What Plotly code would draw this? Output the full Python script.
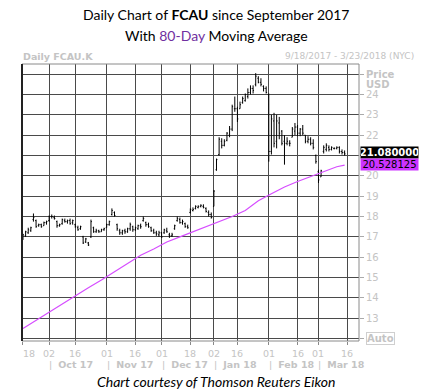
import plotly.graph_objects as go

# ---------------- data (trading-day index from 18 Sep 2017) ----------------
day_index = list(range(124))
opens = [16.9,17.05,17.2,17.3,17.85,17.8,17.55,17.6,17.55,17.7,
         17.8,18.0,17.95,17.75,17.55,17.65,17.8,17.75,17.8,17.7,
         17.6,17.45,17.4,17.0,16.75,16.7,17.0,17.45,17.25,17.3,
         17.25,17.35,17.45,17.6,18.1,18.2,17.6,17.3,17.2,17.3,
         17.25,17.4,17.5,17.35,17.4,17.55,17.8,17.7,17.6,17.45,
         17.3,17.2,17.1,17.2,17.2,17.3,17.1,17.05,17.4,17.8,
         17.85,17.7,17.65,17.5,18.2,18.3,18.4,18.45,18.5,18.5,
         18.4,18.2,18.1,18.5,20.3,21.05,21.7,21.5,21.75,22.0,
         22.3,23.3,23.3,23.3,23.6,23.7,23.9,24.1,24.3,24.5,
         24.8,24.6,24.4,24.3,24.0,21.2,22.7,21.7,22.6,22.2,
         21.7,21.6,21.6,21.9,22.2,22.4,22.1,22.3,22.0,21.7,
         21.8,21.6,21.0,20.2,19.95,21.2,21.3,21.4,21.3,21.35,
         21.35,21.4,21.2,21.15]
highs = [17.15,17.3,17.45,17.5,18.15,17.85,17.65,17.65,17.75,17.8,
         18.05,18.1,18.05,17.8,17.65,17.9,17.9,17.85,17.9,17.85,
         17.65,17.55,17.55,17.05,16.95,16.75,17.85,17.5,17.4,17.35,
         17.4,17.45,17.65,17.8,18.4,18.25,17.65,17.4,17.35,17.4,
         17.45,17.7,17.55,17.5,17.6,17.65,18.0,17.75,17.7,17.5,
         17.4,17.3,17.3,17.25,17.4,17.45,17.2,17.2,17.6,18.0,
         17.95,17.85,17.7,17.6,18.4,18.45,18.55,18.55,18.6,18.6,
         18.45,18.3,18.2,19.3,20.85,21.9,21.85,21.8,22.15,22.45,
         23.5,23.9,23.4,23.65,23.9,24.05,24.3,24.45,24.45,25.05,
         24.9,24.8,24.45,24.4,24.05,23.0,23.1,23.0,22.9,22.25,
         22.0,21.9,21.75,22.4,22.6,22.5,22.35,22.5,22.0,21.95,
         21.9,21.8,21.05,20.3,20.3,21.5,21.6,21.5,21.45,21.4,
         21.45,21.45,21.3,21.25]
lows = [16.85,17.0,17.15,17.25,17.75,17.45,17.5,17.45,17.55,17.6,
        17.75,17.9,17.85,17.45,17.5,17.6,17.7,17.65,17.6,17.6,
        17.45,17.3,17.35,16.65,16.7,16.55,16.95,17.2,17.2,17.2,
        17.25,17.3,17.45,17.55,18.05,18.0,17.3,17.1,17.1,17.15,
        17.2,17.3,17.25,17.3,17.35,17.4,17.75,17.5,17.45,17.25,
        17.15,17.05,17.0,16.95,17.15,17.2,16.95,17.0,17.35,17.75,
        17.65,17.6,17.45,17.4,18.15,18.25,18.35,18.4,18.45,18.4,
        18.2,18.0,17.9,18.5,20.25,21.0,21.35,21.45,21.7,21.9,
        22.2,23.15,22.65,23.3,23.55,23.65,23.8,24.0,24.05,24.4,
        24.55,24.4,24.15,24.05,20.7,21.05,21.4,21.35,21.8,21.5,
        20.55,21.5,21.45,21.9,22.0,21.95,21.95,22.0,21.6,21.6,
        21.5,21.3,20.6,19.65,19.95,21.1,21.2,21.2,21.25,21.3,
        21.3,21.1,21.05,21.0]
closes = [17.1,17.25,17.35,17.45,17.95,17.5,17.6,17.5,17.7,17.75,
          18.0,18.0,17.9,17.55,17.6,17.85,17.75,17.8,17.65,17.8,
          17.5,17.35,17.5,16.7,16.9,16.6,17.75,17.25,17.3,17.25,
          17.35,17.4,17.6,17.75,18.3,18.05,17.4,17.2,17.3,17.25,
          17.4,17.6,17.35,17.45,17.55,17.5,17.9,17.6,17.5,17.3,
          17.2,17.15,17.2,17.0,17.35,17.25,17.05,17.1,17.55,17.9,
          17.7,17.75,17.5,17.45,18.35,18.35,18.5,18.5,18.55,18.45,
          18.25,18.1,17.95,19.25,20.8,21.8,21.5,21.7,22.1,22.3,
          23.4,23.3,22.8,23.5,23.8,24.0,24.1,24.3,24.2,24.9,
          24.6,24.5,24.3,24.1,21.2,22.8,21.6,22.7,22.1,21.6,
          21.6,21.7,21.6,22.3,22.4,22.1,22.3,22.1,21.7,21.8,
          21.6,21.4,20.7,19.8,20.25,21.4,21.5,21.3,21.4,21.35,
          21.4,21.2,21.15,21.08]

ma_index = [0,5,10,15,20,25,30,35,40,45,50,55,60,65,70,75,80,85,90,95,100,105,110,115,120,123]
ma_values = [12.49,12.9,13.3,13.72,14.12,14.5,14.88,15.28,15.7,16.1,16.4,16.75,17.0,
             17.25,17.48,17.72,18.0,18.3,18.78,19.12,19.45,19.72,19.97,20.22,20.45,20.53]

grid_index = [0,10,20,32,43,53,64,73,82,94,105,113,124]
day_labels = ["18","02","16","01","16","01","18","02","16","01","16","01","16"]
month_labels = ["Oct 17","Nov 17","Dec 17","Jan 18","Feb 18","Mar 18"]
month_start_index = [10,32,53,73,94,113]
price_ticks = list(range(12, 26))
last_close_text = "21.080000"
last_ma_text = "20.528125"

# ---------------- geometry helpers ----------------
W, H = 425, 391
L, R, T, B = 22, 66, 64, 50
PW, PH = W - L - R, H - T - B
XR = [-0.38, 128.5]
YR = [11.88, 25.5]

def py(ypx):
    return (H - B - ypx) / PH

def ppx(xpx):
    return (xpx - L) / PW

def yval(ypx):
    return YR[1] - (ypx - T) / PH * (YR[1] - YR[0])

fig = go.Figure()
fig.add_trace(go.Ohlc(x=day_index, open=opens, high=highs, low=lows, close=closes,
                      increasing=dict(line=dict(color="black", width=1)),
                      decreasing=dict(line=dict(color="black", width=1)),
                      tickwidth=0.35, hoverinfo="skip"))
fig.add_trace(go.Scatter(x=ma_index, y=ma_values, mode="lines",
                         line=dict(color="#d64dff", width=1.2), hoverinfo="skip"))

grey = "#c4c4c4"
def tick_text(v):
    if v == 12 or v == 21:
        return ""
    if v == 25:
        return "<b>Price</b>"
    return str(v)
ticktext = [tick_text(v) for v in price_ticks]

fig.update_layout(
    width=W, height=H, margin=dict(l=L, r=R, t=T, b=B),
    plot_bgcolor="white", paper_bgcolor="white", showlegend=False,
    xaxis=dict(range=XR, tickvals=grid_index, showticklabels=False, showgrid=True,
               gridcolor="#4a4a4a", gridwidth=1, zeroline=False, ticks="outside",
               ticklen=3, tickcolor="#888", rangeslider=dict(visible=False),
               showline=False),
    yaxis=dict(range=YR, side="right", tickvals=price_ticks, ticktext=ticktext,
               showgrid=True, gridcolor="#4a4a4a", gridwidth=1, zeroline=False,
               ticks="outside", ticklen=4, tickcolor="#aaa",
               tickfont=dict(family="DejaVu Sans", size=10, color=grey),
               showline=False),
)

# borders
fig.add_shape(type="rect", xref="paper", yref="paper", x0=0, x1=1, y0=0, y1=1,
              line=dict(color="#8a8a8a", width=1))
fig.add_shape(type="line", xref="paper", yref="paper", x0=0, x1=0, y0=0, y1=1,
              line=dict(color="#222", width=2))

ann = []
title_font = dict(family="Lato", size=14, color="black")
ann.append(dict(text="Daily Chart of <b>FCAU</b> since September 2017", x=ppx(216), y=py(15),
                xref="paper", yref="paper", showarrow=False, font=title_font, xanchor="center", yanchor="middle"))
ann.append(dict(text="With <span style='color:#7030a0'>80-Day</span> Moving Average", x=ppx(216), y=py(36),
                xref="paper", yref="paper", showarrow=False, font=title_font, xanchor="center", yanchor="middle"))
ann.append(dict(text="<b>Daily FCAU.K</b>", x=ppx(21), y=py(56), xref="paper", yref="paper",
                showarrow=False, xanchor="left", yanchor="middle",
                font=dict(family="DejaVu Sans", size=9.5, color=grey)))
ann.append(dict(text="9/18/2017 - 3/23/2018 (NYC)", x=ppx(416), y=py(56), xref="paper", yref="paper",
                showarrow=False, xanchor="right", yanchor="middle",
                font=dict(family="DejaVu Sans", size=9, color=grey)))
ann.append(dict(text="<b>USD</b>", x=ppx(364), y=py(85), xref="paper", yref="paper",
                showarrow=False, xanchor="left", yanchor="middle",
                font=dict(family="DejaVu Sans", size=10, color=grey)))
ann.append(dict(text="<b>Auto</b>", x=ppx(366), y=12, xref="paper", yref="y",
                showarrow=False, xanchor="left", yanchor="middle", bordercolor="#cfcfcf",
                borderwidth=1, borderpad=0,
                font=dict(family="DejaVu Sans", size=10, color=grey)))
ann.append(dict(text="<b>" + last_close_text + "</b>", x=ppx(360), y=yval(152.7), xref="paper", yref="y",
                showarrow=False, xanchor="left", yanchor="middle", bgcolor="black", borderpad=0,
                height=11, width=57,
                font=dict(family="DejaVu Sans", size=10, color="white")))
ann.append(dict(text=last_ma_text, x=ppx(360), y=yval(164.5), xref="paper", yref="y",
                showarrow=False, xanchor="left", yanchor="middle", bgcolor="#cc33ff", borderpad=0,
                height=11, width=57,
                font=dict(family="DejaVu Sans", size=10, color="black")))
for k, (gi, lab) in enumerate(zip(grid_index, day_labels)):
    ann.append(dict(text=lab, x=gi, y=py(353), xref="x", yref="paper", showarrow=False,
                    xanchor="center", yanchor="middle", xshift=6 if k == 0 else 0,
                    font=dict(family="DejaVu Sans", size=9.5, color=grey)))
for mi, lab in zip(month_start_index, month_labels):
    ann.append(dict(text="|  <b>" + lab + "</b>", x=mi, y=py(364), xref="x", yref="paper",
                    showarrow=False, xanchor="left", yanchor="middle", xshift=-2,
                    font=dict(family="DejaVu Sans", size=9.5, color=grey)))
ann.append(dict(text="<i>Chart courtesy of Thomson Reuters Eikon</i>", x=ppx(216), y=py(382),
                xref="paper", yref="paper", showarrow=False, xanchor="center", yanchor="middle",
                font=dict(family="Lato", size=14, color="black")))
fig.update_layout(annotations=ann)

fig.write_html("out.html")
